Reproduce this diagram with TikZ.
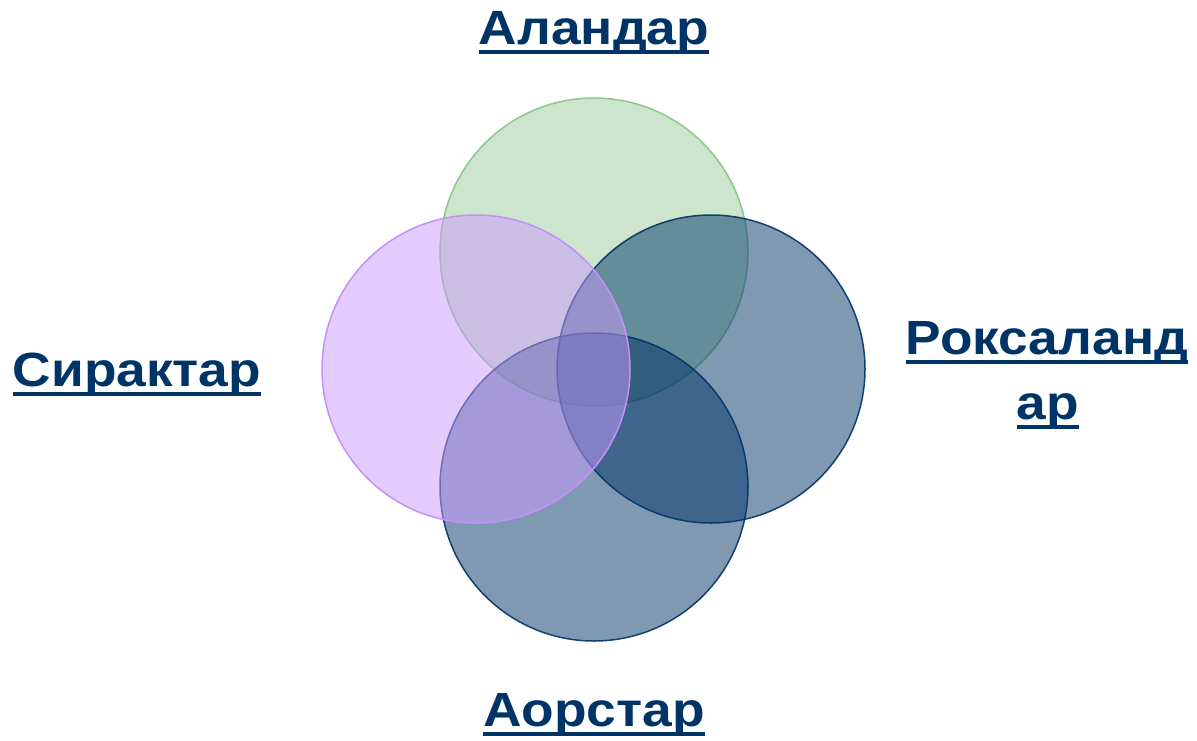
\documentclass[tikz,border=0pt]{standalone}
\usepackage{fontspec}
\usepackage{tikz, xcolor}
\newfontfamily\labelfont[FakeStretch=1.11]{Liberation Sans}

\definecolor{navy}{HTML}{003366}
\definecolor{leafgreen}{HTML}{99CC99}
\definecolor{leafline}{HTML}{8CC88C}
\definecolor{lilac}{HTML}{CC99FF}
\definecolor{lilacline}{HTML}{C490FA}

\tikzset{
  tribe/.style={anchor=base, inner xsep=0pt, text=navy, font=\labelfont\bfseries\fontsize{48}{52}\selectfont},
  uline/.style={draw=navy, line width=3.5pt}
}

\begin{document}
\begin{tikzpicture}[x=1pt, y=-1pt]
    \useasboundingbox (0, 0) rectangle (1197, 740);

    \draw [line width=1.5pt, draw=leafline, fill=leafgreen, fill opacity=.5] (594, 252) circle (154);
    \draw [line width=1.5pt, draw=navy, draw opacity=.9, fill=navy, fill opacity=.5] (711, 369) circle (154);
    \draw [line width=1.5pt, draw=navy, draw opacity=.9, fill=navy, fill opacity=.5] (594, 487) circle (154);
    \draw [line width=1.5pt, draw=lilacline, fill=lilac, fill opacity=.5] (476, 369) circle (154);

    \node [tribe] (alandar) at (594, 44) {Аландар};
    \node [tribe] (siraktar) at (137, 386) {Сирактар};
    \node [tribe] (roksa) at (1047, 354) {Роксаланд};
    \node [tribe] (roksb) at (1048, 419) {ар};
    \node [tribe] (aorstar) at (594, 726) {Аорстар};

    \draw [uline] ([yshift=-8pt]alandar.base west) to ([yshift=-8pt]alandar.base east);
    \draw [uline] ([yshift=-8pt]siraktar.base west) to ([yshift=-8pt]siraktar.base east);
    \draw [uline] ([yshift=-8pt]roksa.base west) to ([yshift=-8pt]roksa.base east);
    \draw [uline] ([yshift=-8pt]roksb.base west) to ([yshift=-8pt]roksb.base east);
    \draw [uline] ([yshift=-8pt]aorstar.base west) to ([yshift=-8pt]aorstar.base east);

  \end{tikzpicture}
\end{document}
